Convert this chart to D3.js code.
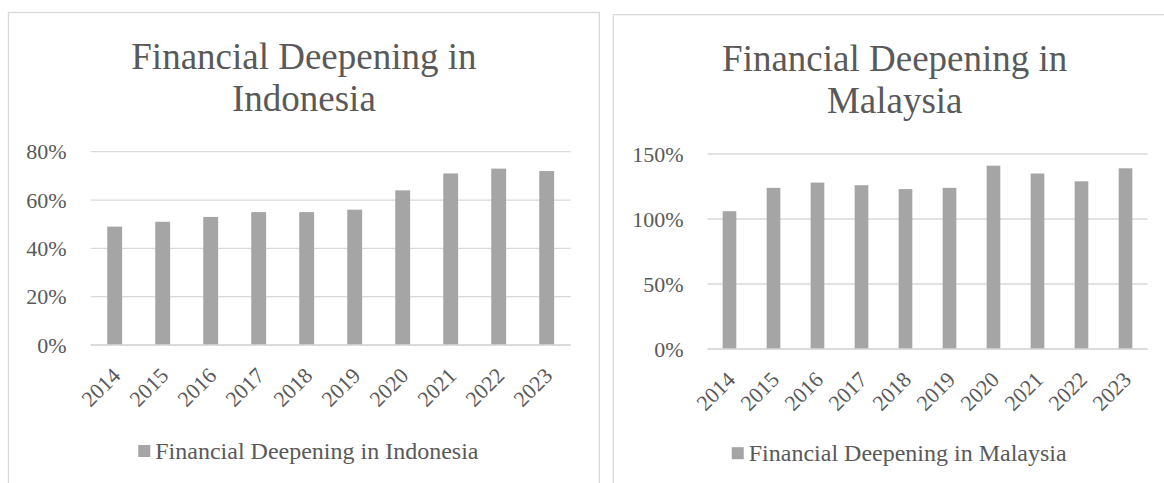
<!DOCTYPE html>
<html>
<head>
<meta charset="utf-8">
<script src="https://cdn.jsdelivr.net/npm/d3@7"></script>
<style>
  body { margin: 0; background: #fff; }
  text { font-family: "Liberation Serif", "Times New Roman", serif; fill: #595959; }
</style>
</head>
<body>
<div id="chart"></div>
<script>
// data
const years = ["2014", "2015", "2016", "2017", "2018", "2019", "2020", "2021", "2022", "2023"];
const indonesiaValues = [49, 51, 53, 55, 55, 56, 64, 71, 73, 72];
const malaysiaValues = [106, 124, 128, 126, 123, 124, 141, 135, 129, 139];
const indonesiaTicks = [0, 20, 40, 60, 80];
const malaysiaTicks = [0, 50, 100, 150];
const indonesiaTitle = ["Financial Deepening in", "Indonesia"];
const malaysiaTitle = ["Financial Deepening in", "Malaysia"];
const indonesiaLegend = "Financial Deepening in Indonesia";
const malaysiaLegend = "Financial Deepening in Malaysia";

const W = 1164, H = 483;
const barColor = "#a5a5a5";
const gridColor = "#d9d9d9";

const svg = d3.select("#chart").append("svg")
    .attr("width", W)
    .attr("height", H);

function drawChart(opts) {
    const g = svg.append("g");

    // chart frame (bottom runs off the picture)
    g.append("rect")
        .attr("x", opts.frame.x)
        .attr("y", opts.frame.y)
        .attr("width", opts.frame.w)
        .attr("height", 600)
        .attr("fill", "none")
        .attr("stroke", gridColor)
        .attr("stroke-width", 1.3);

    const cx = opts.frame.x + opts.frame.w / 2;

    // title
    opts.title.forEach(function(line, i) {
        g.append("text")
            .attr("x", cx)
            .attr("y", opts.frame.y + 56 + i * 42.4)
            .attr("text-anchor", "middle")
            .attr("font-size", 37)
            .text(line);
    });

    const x = d3.scaleBand()
        .domain(years)
        .range([opts.plot.x0, opts.plot.x1])
        .paddingInner(0.69)
        .paddingOuter(0.345);

    const y = d3.scaleLinear()
        .domain([0, opts.max])
        .range([opts.plot.y0, opts.plot.y1]);

    // gridlines
    g.selectAll(".grid")
        .data(opts.ticks)
        .enter().append("line")
        .attr("x1", opts.plot.x0)
        .attr("x2", opts.plot.x1)
        .attr("y1", d => y(d))
        .attr("y2", d => y(d))
        .attr("stroke", gridColor)
        .attr("stroke-width", 1.3);

    // y tick labels
    g.selectAll(".ylab")
        .data(opts.ticks)
        .enter().append("text")
        .attr("x", opts.plot.x0 - 24)
        .attr("y", d => y(d) + 7.5)
        .attr("text-anchor", "end")
        .attr("font-size", 22)
        .text(d => d + "%");

    // bars
    g.selectAll(".bar")
        .data(opts.values)
        .enter().append("rect")
        .attr("x", (d, i) => x(years[i]))
        .attr("width", x.bandwidth())
        .attr("y", d => y(d))
        .attr("height", d => y(0) - y(d))
        .attr("fill", barColor);

    // redraw the zero line over the bars
    g.append("line")
        .attr("x1", opts.plot.x0)
        .attr("x2", opts.plot.x1)
        .attr("y1", y(0))
        .attr("y2", y(0))
        .attr("stroke", gridColor)
        .attr("stroke-width", 1.3);

    // rotated year labels
    g.selectAll(".xlab")
        .data(years)
        .enter().append("text")
        .attr("transform", d => "translate(" + (x(d) + x.bandwidth() / 2 + 7) + "," + (y(0) + 32) + ") rotate(-45)")
        .attr("text-anchor", "end")
        .attr("font-size", 22)
        .text(d => d);

    // legend
    const leg = g.append("g");
    const legText = leg.append("text")
        .attr("x", 17)
        .attr("y", 14)
        .attr("font-size", 24)
        .text(opts.legend);
    leg.append("rect")
        .attr("x", 0)
        .attr("y", 0)
        .attr("width", 12)
        .attr("height", 12)
        .attr("fill", barColor);
    const total = 17 + legText.node().getComputedTextLength();
    leg.attr("transform", "translate(" + (cx + 4.5 - total / 2) + "," + (opts.frame.y + 432.5) + ")");
}

drawChart({
    frame: {x: 8.5, y: 12.5, w: 590.8},
    plot: {x0: 90.7, x1: 570.7, y0: 345, y1: 151.7},
    max: 80,
    ticks: indonesiaTicks,
    values: indonesiaValues,
    title: indonesiaTitle,
    legend: indonesiaLegend
});

drawChart({
    frame: {x: 613.3, y: 14.7, w: 562.8},
    plot: {x0: 707.5, x1: 1147.5, y0: 349, y1: 154},
    max: 150,
    ticks: malaysiaTicks,
    values: malaysiaValues,
    title: malaysiaTitle,
    legend: malaysiaLegend
});
</script>
</body>
</html>
